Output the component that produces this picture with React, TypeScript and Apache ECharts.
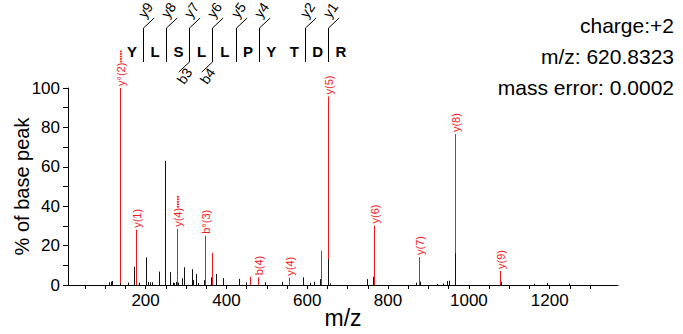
import React, { useEffect, useRef } from "react";
import * as echarts from "echarts";

// ---------- data ----------
const sequence = ["Y", "L", "S", "L", "L", "P", "Y", "T", "D", "R"];
const yIonCuts = [0, 1, 2, 3, 4, 5, 7, 8]; // cleavage after residue index -> y(9-i)
const bIonCuts = [2, 3]; // cleavage after residue index -> b(i+1)

const annotatedMz = [136.57, 175.12, 277.63, 346.18, 364.19, 459.26, 477.27, 554.26, 633.3, 651.31, 764.39, 877.48, 964.51, 1077.59];
const annotatedIntensity = [100, 28, 28.5, 25, 16.3, 4.2, 3.9, 3.7, 17.4, 95.7, 30.2, 14.2, 76.6, 7.1];
const annotatedLabels = ["y°(2)", "y(1)", "y(4)", "b°(3)", "", "", "b(4)", "y(4)", "", "y(5)", "y(6)", "y(7)", "y(8)", "y(9)"];
const annotatedDouble = [true, false, true, false, false, false, false, false, false, false, false, false, false, false];

const otherMz = [109.8, 113.3, 117.2, 137, 156.8, 171, 182.5, 200.6, 206.8, 210.5, 216.2, 232, 247.6, 260, 266.7, 270, 275.5, 279, 289, 295.4, 313.7, 316.2, 325.1, 328.6, 343.4, 360.8, 373.1, 390.5, 430.8, 449.4, 495.2, 536.5, 590.5, 606.6, 616.5, 632.5, 652, 656.8, 746.9, 762.5, 869.7, 878.8, 920.2, 936.5, 946.4, 949.9, 966.2, 1079.3, 1161, 1194, 1248.4];
const otherIntensity = [1.4, 1.7, 2.0, 0.9, 1.2, 9.3, 1.2, 14, 1.5, 1.4, 1.4, 6.8, 63, 6.5, 1.2, 1.0, 1.6, 1.2, 3.4, 9, 8, 2.5, 5.6, 1.0, 2.5, 3.9, 5.6, 3.5, 3.1, 1.3, 1.4, 1.6, 3.9, 1.1, 1.7, 3, 13.2, 0.8, 3, 4.2, 1.2, 1.7, 0.5, 0.8, 2, 2.2, 16.1, 1.7, 0.6, 1.0, 0.8];

const xTickValues = [50, 100, 150, 200, 250, 300, 350, 400, 450, 500, 550, 600, 650, 700, 750, 800, 850, 900, 950, 1000, 1050, 1100, 1150, 1200, 1250, 1300];
const xLabelValues = [200, 400, 600, 800, 1000, 1200];
const yLabelValues = [0, 20, 40, 60, 80, 100];

const infoLines = ["charge:+2", "m/z: 620.8323", "mass error: 0.0002"];

const RED = "#f01818";
const FONT = "Liberation Sans";

export default function App() {
  const ref = useRef<HTMLDivElement>(null);
  useEffect(() => {
    if (!ref.current) return;
    const chart = echarts.init(ref.current, undefined, { renderer: "svg" });

    const stick = (color: string, withLabels: boolean) => (params: any, api: any) => {
      const mz = api.value(0);
      const inten = api.value(1);
      const p0 = api.coord([mz, 0]);
      const p1 = api.coord([mz, inten]);
      const x = Math.round(p0[0]) + 0.5;
      const children: any[] = [
        { type: "line", shape: { x1: x, y1: p0[1], x2: x, y2: p1[1] }, style: { stroke: color, lineWidth: 1 } },
      ];
      if (withLabels) {
        const lbl = annotatedLabels[params.dataIndex];
        if (lbl) {
          const dbl = annotatedDouble[params.dataIndex];
          children.push({
            type: "text",
            x: x,
            y: p1[1] - 2,
            rotation: Math.PI / 2,
            style: {
              text: dbl ? lbl + "{d|•••••}" : lbl,
              fill: RED,
              fontSize: 11,
              fontFamily: FONT,
              align: "left",
              verticalAlign: "middle",
              rich: { d: { fontSize: 7, fill: RED, fontFamily: FONT, verticalAlign: "middle" } },
            },
          });
        }
      }
      return { type: "group", children };
    };

    // peptide annotation graphics
    const letterX = (i: number) => 132 + i * 23.2;
    const graphics: any[] = [];
    sequence.forEach((aa, i) => {
      graphics.push({
        type: "text",
        x: letterX(i),
        y: 51,
        style: { text: aa, fontSize: 15, fontWeight: "bold", fontFamily: FONT, fill: "#000", align: "center", verticalAlign: "middle" },
      });
    });
    const cutX = (i: number) => Math.round(letterX(i) + 10.7) + 0.5;
    const allCuts = Array.from(new Set([...yIonCuts, ...bIonCuts]));
    allCuts.forEach((i) => {
      const sx = cutX(i);
      graphics.push({ type: "line", shape: { x1: sx, y1: 28, x2: sx, y2: 62 }, style: { stroke: "#000", lineWidth: 1 } });
    });
    yIonCuts.forEach((i) => {
      const sx = cutX(i);
      graphics.push({ type: "line", shape: { x1: sx, y1: 28, x2: sx + 10.7, y2: 18 }, style: { stroke: "#000", lineWidth: 1 } });
      graphics.push({
        type: "text",
        x: sx + 2,
        y: 10,
        rotation: 0.96,
        style: { text: "y" + (9 - i), fontSize: 14, fontFamily: FONT, fill: "#000", align: "center", verticalAlign: "middle" },
      });
    });
    bIonCuts.forEach((i) => {
      const sx = cutX(i);
      graphics.push({ type: "line", shape: { x1: sx, y1: 62, x2: sx - 10.7, y2: 72 }, style: { stroke: "#000", lineWidth: 1 } });
      graphics.push({
        type: "text",
        x: sx - 5,
        y: 76,
        rotation: 0.96,
        style: { text: "b" + (i + 1), fontSize: 14, fontFamily: FONT, fill: "#000", align: "center", verticalAlign: "middle" },
      });
    });
    infoLines.forEach((t, k) => {
      graphics.push({
        type: "text",
        x: 674,
        y: 25 + k * 31,
        style: { text: t, fontSize: 21, fontFamily: FONT, fill: "#000", align: "right", verticalAlign: "middle" },
      });
    });

    chart.setOption({
      animation: false,
      backgroundColor: "#fff",
      textStyle: { fontFamily: FONT },
      grid: { left: 68, right: 65, top: 88, bottom: 49, containLabel: false, outerBoundsMode: "none" },
      xAxis: {
        type: "value",
        min: 8,
        max: 1369,
        name: "m/z",
        nameLocation: "middle",
        nameGap: 21,
        nameMoveOverlap: false,
        nameTextStyle: { fontSize: 23, color: "#000", fontFamily: FONT },
        axisLine: { show: true, lineStyle: { color: "#000", width: 1 } },
        axisTick: { show: true, length: 4, customValues: xTickValues, lineStyle: { color: "#000" } },
        axisLabel: { customValues: xLabelValues, fontSize: 17, color: "#000", margin: 7, fontFamily: FONT, formatter: (v: number) => String(v) },
        splitLine: { show: false },
      },
      yAxis: {
        type: "value",
        min: 0,
        max: 100,
        interval: 10,
        name: "% of base peak",
        nameLocation: "middle",
        nameGap: 36,
        nameMoveOverlap: false,
        nameTextStyle: { fontSize: 20, color: "#000", fontFamily: FONT },
        axisLine: { show: true, lineStyle: { color: "#000", width: 1 } },
        axisTick: { show: true, length: 5, lineStyle: { color: "#000" } },
        axisLabel: {
          fontSize: 17,
          color: "#000",
          margin: 8,
          fontFamily: FONT,
          formatter: (v: number) => (yLabelValues.indexOf(v) >= 0 ? String(v) : ""),
        },
        splitLine: { show: false },
      },
      series: [
        {
          type: "custom",
          name: "annotated",
          renderItem: stick(RED, true),
          data: annotatedMz.map((m, i) => [m, annotatedIntensity[i]]),
          encode: { x: 0, y: 1 },
          z: 2,
          clip: false,
        },
        {
          type: "custom",
          name: "other",
          renderItem: stick("#111", false),
          data: otherMz.map((m, i) => [m, otherIntensity[i]]),
          encode: { x: 0, y: 1 },
          z: 3,
        },
      ],
      graphic: graphics,
    });
    return () => chart.dispose();
  }, []);
  return <div ref={ref} style={{ position: "fixed", left: 0, top: 0, width: 683, height: 334 }} />;
}
